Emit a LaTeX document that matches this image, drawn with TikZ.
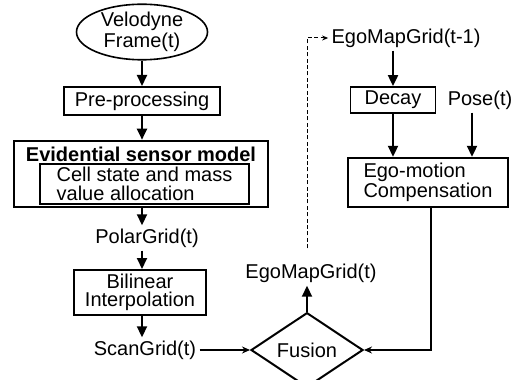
\documentclass[tikz,border=0pt]{standalone}
\usepackage{fontspec}
\setmainfont{Liberation Sans}
\usepackage{tikz}
\usetikzlibrary{calc, shapes.geometric, positioning, arrows.meta}
\newcommand\diagfont{\fontsize{10}{9.2}\selectfont}
\tikzset{
  every node/.style={font=\diagfont},
  procbox/.style={draw, line width=1pt, inner sep=0pt, align=center},
  leftbox/.style={draw, line width=1.2pt, inner sep=0pt, align=left},
  gridlabel/.style={inner sep=1.5pt},
  flowarrow/.style={line width=1pt, -{Triangle[length=5.5pt, width=5pt]}},
  thinarrow/.style={line width=0.7pt, -{Stealth[length=4pt, width=3.5pt]}},
  feedback/.style={line width=0.5pt, dash pattern=on 2pt off 1.2pt, -{Stealth[length=3pt, width=2.5pt]}}
}

\begin{document}
\begin{tikzpicture}[x=0.5pt, y=-0.5pt]
	\useasboundingbox (0,0) rectangle (522,379);
	\node[ellipse, draw, line width=0.8pt, minimum width=65.5pt, minimum height=23pt, inner sep=0pt, align=center] (velodyne) at (142,32) {Velodyne\\Frame(t)};
	\node[procbox, minimum width=78pt, minimum height=14pt] (preproc) at (142,101) {Pre-processing};
	\node[draw, line width=1.3pt, minimum width=127pt, minimum height=33pt] (sensormodel) at (141,174) {};
	\node[font=\diagfont\bfseries, inner sep=0pt] (modeltitle) at (141,154) {Evidential sensor model};
	\node[leftbox, line width=1pt, minimum width=104.5pt, minimum height=20pt] (allocation) at (144.5,184) {Cell state and mass\\value allocation};
	\node[gridlabel] (polargrid) at (147,238) {PolarGrid(t)};
	\node[procbox, minimum width=66pt, minimum height=22.5pt] (bilinear) at (140,292.5) {Bilinear\\Interpolation};
	\node[gridlabel] (scangrid) at (145,350) {ScanGrid(t)};
	\node[diamond, draw, line width=1pt, minimum width=56pt, minimum height=27pt, inner sep=0pt] (fusion) at (307,350) {Fusion};
	\node[gridlabel] (egomap) at (311,273) {EgoMapGrid(t)};
	\node[gridlabel] (egomapprev) at (406,38) {EgoMapGrid(t-1)};
	\node[procbox, line width=0.9pt, minimum width=42.5pt, minimum height=13pt] (decay) at (393,100) {Decay};
	\node[gridlabel] (pose) at (480,100) {Pose(t)};
	\node[leftbox, minimum width=80pt, minimum height=24.5pt] (egomotion) at (428,182.5) {Ego-motion\\Compensation};

	\draw[flowarrow] (velodyne) -- (preproc);
	\draw[flowarrow] (preproc) -- (preproc |- sensormodel.north);
	\draw[flowarrow] (preproc |- sensormodel.south) -- (preproc |- polargrid.north);
	\draw[flowarrow] (preproc |- polargrid.south) -- (preproc |- bilinear.north);
	\draw[flowarrow] (preproc |- bilinear.south) -- (preproc |- scangrid.north);
	\draw[thinarrow] (scangrid) -- (fusion);
	\draw[flowarrow] (fusion) -- (fusion |- egomap.south);
	\draw[feedback] ([yshift=6pt]egomap.north -| fusion) |- (egomapprev);
	\draw[flowarrow] (egomapprev.south -| decay) -- (decay);
	\draw[flowarrow] (decay) -- (decay |- egomotion.north);
	\draw[flowarrow] ([xshift=-4pt]pose.south) -- ([xshift=-4pt]pose.south |- egomotion.north);
	\draw[thinarrow] ([xshift=1.5pt]egomotion.south) |- (fusion);
\end{tikzpicture}
\end{document}
